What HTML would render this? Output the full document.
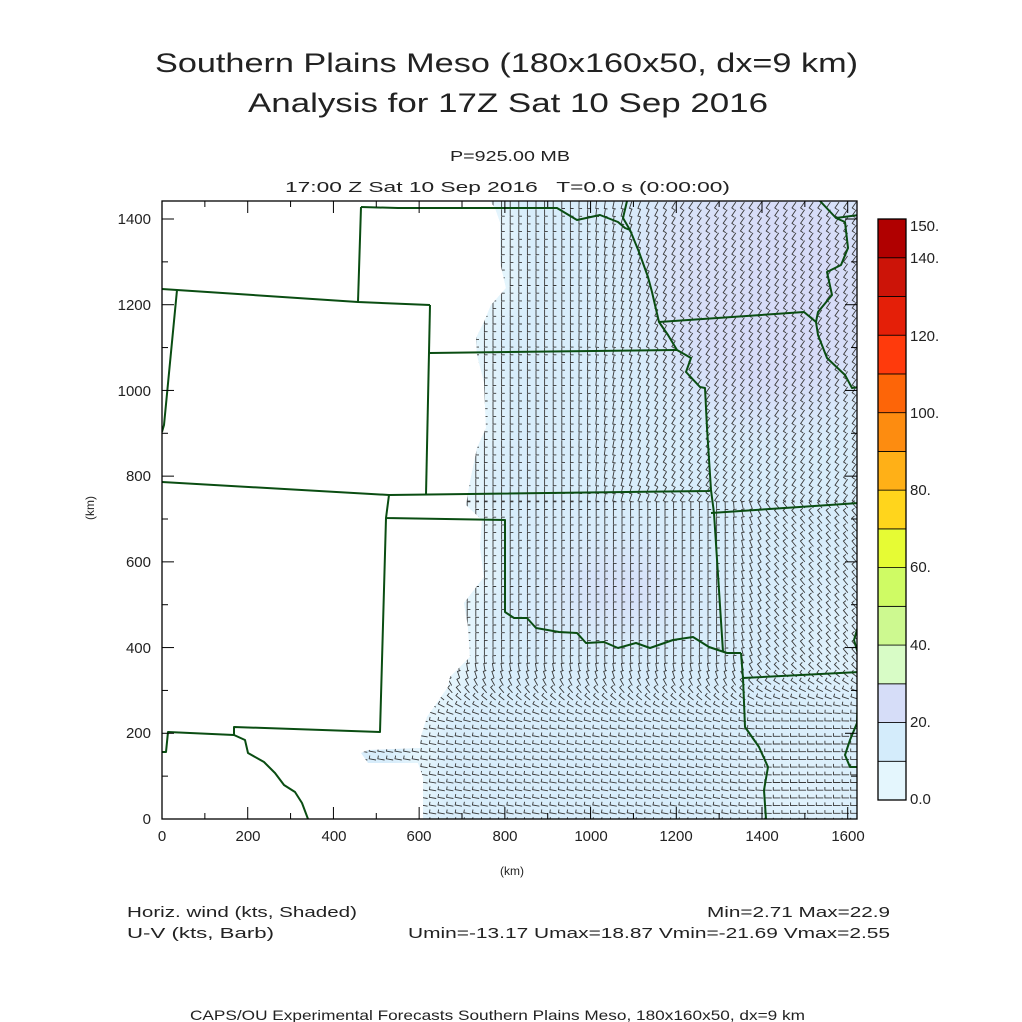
<!DOCTYPE html>
<html><head><meta charset="utf-8"><style>html,body{margin:0;padding:0;background:#fff}svg{display:block}</style></head>
<body>
<svg id="s" width="1022" height="1022" viewBox="0 0 1022 1022" xmlns="http://www.w3.org/2000/svg" font-family="Liberation Sans, sans-serif" fill="#222">
<defs>
<clipPath id="frame"><rect x="162" y="201" width="695" height="618"/></clipPath>
<clipPath id="data"><polygon id="dpoly" points="490,201 495,208 500,222 500,262 506,288 491,305 484,322 476,338 477,355 484,382 486,428 477,448 470,482 466,505 482,520 480,547 484,577 464,603 468,627 470,657 450,677 448,687 427,717 420,740 420,748 368,750 361,753 368,763 418,763 423,777 423,819 857,819 857,201"/></clipPath>
<filter id="bl" x="-50%" y="-50%" width="200%" height="200%"><feGaussianBlur stdDeviation="25"/></filter>
<filter id="bl2" x="-50%" y="-50%" width="200%" height="200%"><feGaussianBlur stdDeviation="10"/></filter>
</defs>
<g clip-path="url(#frame)">
<g clip-path="url(#data)">
<rect x="162" y="201" width="695" height="618" fill="#d8edfb"/>
<g filter="url(#bl2)"><polyline points="490,201 495,208 500,222 500,262 506,288 491,305 484,322 476,338 477,355 484,382 486,428 477,448 470,482 466,505 482,520 480,547 484,577 464,603 468,627 470,657 450,677 448,687 427,717 420,740 420,819" fill="none" stroke="#e6f6fd" stroke-width="30"/></g>
<g filter="url(#bl)">
<ellipse cx="770" cy="290" rx="110" ry="130" fill="#d7dbf8"/>
<ellipse cx="700" cy="250" rx="60" ry="60" fill="#d9e0f8"/>
<ellipse cx="620" cy="590" rx="60" ry="28" fill="#d7dcf8"/>
<ellipse cx="840" cy="640" rx="30" ry="60" fill="#e2f3fc"/>
<ellipse cx="790" cy="790" rx="60" ry="40" fill="#e2f3fc"/>
</g>
<path id="barbs" fill="none" stroke="#3a3a3a" stroke-width="0.9" d=""/>
</g>
<g fill="none" stroke="#0a4d12" stroke-width="2" stroke-linejoin="round">
<polyline points="361,207 398,208 557,208 577,220 600,215 618,222 625,228 630,230 639,252 648,277 652,292 655,305 659,322 668,335 677,350 691,358 686,372 700,387 705,388 707,428 711,490 714,513 723,652"/>
<polyline points="627,201 623,218 630,230"/>
<polyline points="659,322 804,312 816,322"/>
<polyline points="820,201 836,218 859,215"/>
<polyline points="836,218 845,222 848,248 841,265 827,272 832,295 818,312 816,322 818,335 827,358 845,375 852,388 859,387"/>
<polyline points="361,207 358,302"/>
<polyline points="162,289 177,290 358,302 430,305"/>
<polyline points="177,290 164,425 162,432"/>
<polyline points="430,305 426,495"/>
<polyline points="430,353 675,350 677,350"/>
<polyline points="162,482 389,495 709,491 711,490"/>
<polyline points="711,513 859,503"/>
<polyline points="389,495 386,518 505,520 505,612 514,618 527,618 536,628 559,632 577,633 586,643 604,642 618,648 636,643 650,648 673,640 693,637 709,647 727,653 741,653"/>
<polyline points="741,653 743,678 859,672"/>
<polyline points="743,678 745,727 759,747 768,767 764,790 766,819"/>
<polyline points="859,623 854,640 859,657 857,723 850,740 845,755 850,767 859,767"/>
<polyline points="386,518 380,732 234,727 234,735 168,732 166,752 162,752"/>
<polyline points="234,735 245,740 248,753 264,762 275,773 284,785 295,792 302,803 308,819"/>
</g>
</g>
<rect x="162" y="201" width="695" height="618" fill="none" stroke="#000" stroke-width="1.3"/>
<g id="ticks" stroke="#000" stroke-width="1"></g>
<g font-size="15" text-anchor="end">
<text x="151" y="224">1400</text><text x="151" y="310">1200</text><text x="151" y="396">1000</text>
<text x="151" y="481">800</text><text x="151" y="567">600</text><text x="151" y="653">400</text>
<text x="151" y="738">200</text><text x="151" y="824">0</text>
</g>
<g font-size="15" text-anchor="middle">
<text x="162" y="841">0</text><text x="248" y="841">200</text><text x="334" y="841">400</text>
<text x="419" y="841">600</text><text x="505" y="841">800</text><text x="591" y="841">1000</text>
<text x="676" y="841">1200</text><text x="762" y="841">1400</text><text x="848" y="841">1600</text>
<text x="512" y="875" font-size="12">(km)</text>
<text transform="translate(94,508) rotate(-90)" font-size="12">(km)</text>
</g>
<text x="155" y="72" font-size="27" textLength="703" lengthAdjust="spacingAndGlyphs">Southern Plains Meso (180x160x50, dx=9 km)</text>
<text x="248" y="112" font-size="27" textLength="520" lengthAdjust="spacingAndGlyphs">Analysis for 17Z Sat 10 Sep 2016</text>
<text x="450" y="161" font-size="15" textLength="120" lengthAdjust="spacingAndGlyphs">P=925.00 MB</text>
<text x="285" y="192" font-size="15" textLength="445" lengthAdjust="spacingAndGlyphs" xml:space="preserve">17:00 Z Sat 10 Sep 2016   T=0.0 s (0:00:00)</text>
<g id="cbar"></g>
<g font-size="15">
<text x="910" y="231">150.</text><text x="910" y="263">140.</text><text x="910" y="341">120.</text>
<text x="910" y="418">100.</text><text x="910" y="495">80.</text><text x="910" y="572">60.</text>
<text x="910" y="650">40.</text><text x="910" y="727">20.</text><text x="910" y="804">0.0</text>
</g>
<g font-size="15">
<text x="127" y="917" textLength="230" lengthAdjust="spacingAndGlyphs">Horiz. wind (kts, Shaded)</text>
<text x="127" y="938" textLength="147" lengthAdjust="spacingAndGlyphs">U-V (kts, Barb)</text>
<text x="707" y="917" textLength="183" lengthAdjust="spacingAndGlyphs">Min=2.71 Max=22.9</text>
<text x="408" y="938" textLength="482" lengthAdjust="spacingAndGlyphs">Umin=-13.17 Umax=18.87 Vmin=-21.69 Vmax=2.55</text>
<text x="190" y="1020" font-size="14" textLength="615" lengthAdjust="spacingAndGlyphs">CAPS/OU Experimental Forecasts  Southern Plains Meso, 180x160x50, dx=9 km</text>
</g>
</svg>
<script>
(function(){
var NS="http://www.w3.org/2000/svg";
var t=document.getElementById('ticks');
function ln(x1,y1,x2,y2){var l=document.createElementNS(NS,'line');l.setAttribute('x1',x1);l.setAttribute('y1',y1);l.setAttribute('x2',x2);l.setAttribute('y2',y2);t.appendChild(l);}
var sc=600/1400;
for(var k=0;k<=1600;k+=100){var x=162+k*sc;var L=(k%200==0)?12:6;ln(x,819,x,819-L);ln(x,201,x,201+L);}
for(var k=0;k<=1400;k+=100){var y=819-k*sc;var L=(k%200==0)?12:6;ln(162,y,162+L,y);ln(857,y,857-L,y);}
var cols=["#e4f6fd","#d4ecfb","#d6ddf8","#d8fcc6","#cdf990","#cffb64","#e6fb34","#ffd51c","#ffb017","#fd8c10","#fd6508","#ff3a0c","#e41f08","#cc1408","#b00000"];
var cb=document.getElementById('cbar');var top=219,bot=800,h=(bot-top)/15;
for(var i=0;i<15;i++){var r=document.createElementNS(NS,'rect');r.setAttribute('x',878);r.setAttribute('y',bot-(i+1)*h);r.setAttribute('width',28);r.setAttribute('height',h);r.setAttribute('fill',cols[i]);r.setAttribute('stroke','#000');r.setAttribute('stroke-width','0.8');cb.appendChild(r);}
var fr=document.createElementNS(NS,'rect');fr.setAttribute('x',878);fr.setAttribute('y',top);fr.setAttribute('width',28);fr.setAttribute('height',bot-top);fr.setAttribute('fill','none');fr.setAttribute('stroke','#000');fr.setAttribute('stroke-width','1.3');cb.appendChild(fr);
function sm(a,b,x){var v=Math.min(1,Math.max(0,(x-a)/(b-a)));return v*v*(3-2*v);}
function lerp(a,b,t){return a+(b-a)*t;}
var d="";
for(var y=205;y<822;y+=7.7){for(var x=364;x<860;x+=8.6){
 var north=1-sm(470,530,y);
 var ne=sm(560,700,x);
 var aN=lerp(90,125,ne);
 var aS=-90;
 var sw=sm(650,730,y);
 var east=sm(720,780,x);
 var aSouth=lerp(-90,-130,east);
 var aBot=lerp(-170,-180,east);
 aS=lerp(aSouth,aBot,sw*(1-0.5*sm(880,1000,x)*(1-east)));
 var a,side;
 if(north>0.5){a=aN;side=-1;}else{a=aS;side=1;}
 var r=a*Math.PI/180,sx=Math.cos(r),sy=Math.sin(r);
 var fx=side>0?-sy:sy,fy=side>0?sx:-sx;
 var x0=x-sx*3.5,y0=y-sy*3.5,x1=x+sx*3.5,y1=y+sy*3.5;
 d+="M"+x0.toFixed(1)+" "+y0.toFixed(1)+"L"+x1.toFixed(1)+" "+y1.toFixed(1)+"l"+(fx*3.2).toFixed(1)+" "+(fy*3.2).toFixed(1);
}}
document.getElementById('barbs').setAttribute('d',d);
})();
</script>
</body></html>
